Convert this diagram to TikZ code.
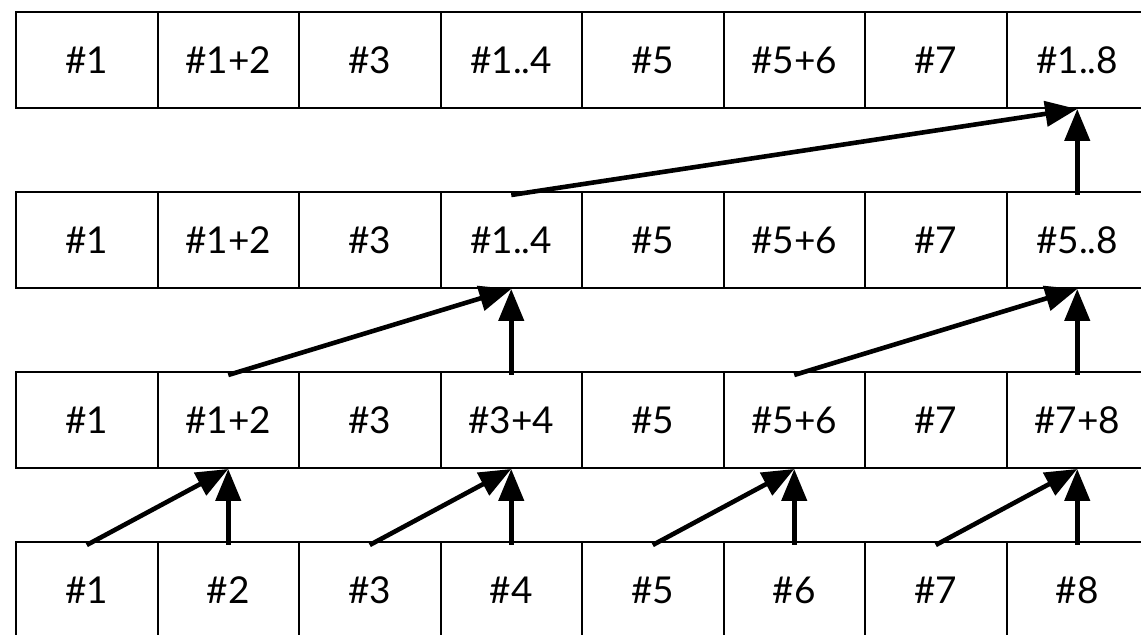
\documentclass[tikz,border=0pt]{standalone}
\usepackage{fontspec}
\setmainfont{Lato}
\usetikzlibrary{arrows.meta}

\begin{document}
\begin{tikzpicture}[
      x=0.5pt, y=-0.5pt,
      cell/.style={
        rectangle,
        draw=black,
        line width=1pt,
        inner sep=0pt,
        minimum width=70.75pt,
        minimum height=48pt,
        font=\fontsize{18.5}{21}\selectfont
      },
      sum/.style={
        line width=2.3pt,
        -{Triangle[length=16pt,width=12.5pt]}
      }
    ]
      \clip (0,0) rectangle (1141,635);
      \useasboundingbox (0,0) rectangle (1141,635);

      % top row
      \node (d1) at (86.75,60)   [cell]{\#1};
      \node (d2) at (228.25,60)  [cell]{\#1+2};
      \node (d3) at (369.75,60)  [cell]{\#3};
      \node (d4) at (511.25,60)  [cell]{\#1..4};
      \node (d5) at (652.75,60)  [cell]{\#5};
      \node (d6) at (794.25,60)  [cell]{\#5+6};
      \node (d7) at (935.75,60)  [cell]{\#7};
      \node (d8) at (1077.25,60) [cell]{\#1..8};

      \node (c1) at (86.75,240)   [cell]{\#1};
      \node (c2) at (228.25,240)  [cell]{\#1+2};
      \node (c3) at (369.75,240)  [cell]{\#3};
      \node (c4) at (511.25,240)  [cell]{\#1..4};
      \node (c5) at (652.75,240)  [cell]{\#5};
      \node (c6) at (794.25,240)  [cell]{\#5+6};
      \node (c7) at (935.75,240)  [cell]{\#7};
      \node (c8) at (1077.25,240) [cell]{\#5..8};

      \node (b1) at (86.75,420)   [cell]{\#1};
      \node (b2) at (228.25,420)  [cell]{\#1+2};
      \node (b3) at (369.75,420)  [cell]{\#3};
      \node (b4) at (511.25,420)  [cell]{\#3+4};
      \node (b5) at (652.75,420)  [cell]{\#5};
      \node (b6) at (794.25,420)  [cell]{\#5+6};
      \node (b7) at (935.75,420)  [cell]{\#7};
      \node (b8) at (1077.25,420) [cell]{\#7+8};

      % input row
      \node (a1) at (86.75,590)   [cell]{\#1};
      \node (a2) at (228.25,590)  [cell]{\#2};
      \node (a3) at (369.75,590)  [cell]{\#3};
      \node (a4) at (511.25,590)  [cell]{\#4};
      \node (a5) at (652.75,590)  [cell]{\#5};
      \node (a6) at (794.25,590)  [cell]{\#6};
      \node (a7) at (935.75,590)  [cell]{\#7};
      \node (a8) at (1077.25,590) [cell]{\#8};

      \draw[sum] ([yshift=-2pt]a1.north) -- (b2.south);
      \draw[sum] ([yshift=-2pt]a2.north) -- (b2.south);
      \draw[sum] ([yshift=-2pt]a3.north) -- (b4.south);
      \draw[sum] ([yshift=-2pt]a4.north) -- (b4.south);
      \draw[sum] ([yshift=-2pt]a5.north) -- (b6.south);
      \draw[sum] ([yshift=-2pt]a6.north) -- (b6.south);
      \draw[sum] ([yshift=-2pt]a7.north) -- (b8.south);
      \draw[sum] ([yshift=-2pt]a8.north) -- (b8.south);

      \draw[sum] ([yshift=-2pt]b2.north) -- (c4.south);
      \draw[sum] ([yshift=-2pt]b4.north) -- (c4.south);
      \draw[sum] ([yshift=-2pt]b6.north) -- (c8.south);
      \draw[sum] ([yshift=-2pt]b8.north) -- (c8.south);

      \draw[sum] ([yshift=-2pt]c4.north) -- (d8.south);
      \draw[sum] ([yshift=-2pt]c8.north) -- (d8.south);

    \end{tikzpicture}
\end{document}
